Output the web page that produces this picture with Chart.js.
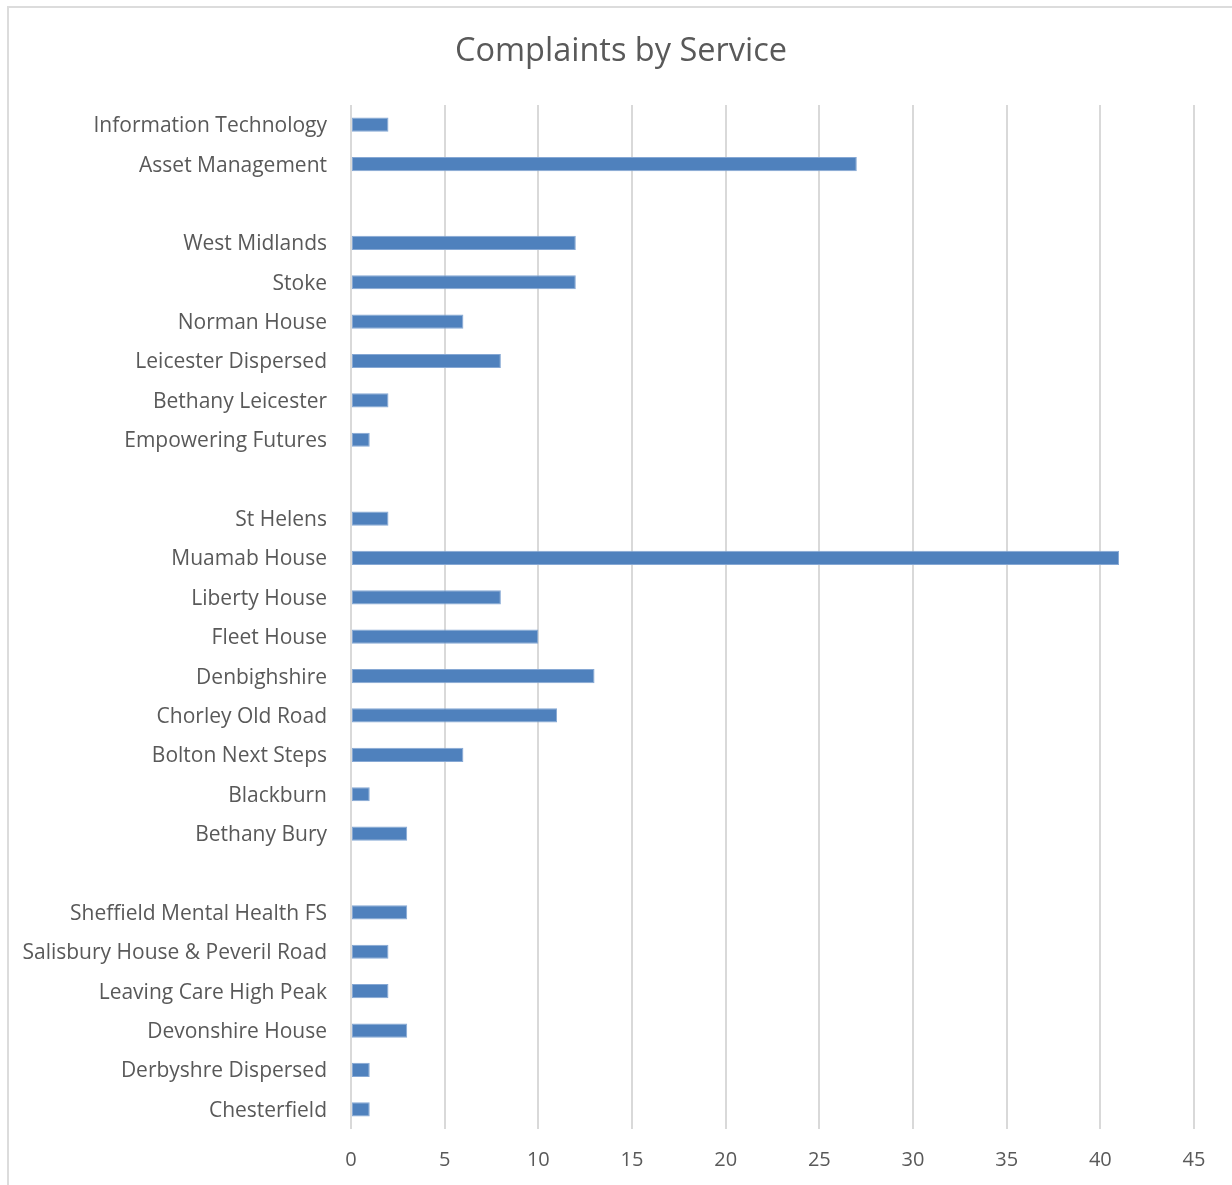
<!DOCTYPE html>
<html>
<head>
<meta charset="utf-8">
<title>Complaints by Service</title>
<script src="https://cdn.jsdelivr.net/npm/chart.js@4/dist/chart.umd.min.js"></script>
<style>
  html, body { margin: 0; padding: 0; background: #fff; overflow: hidden; }
  #frame {
    position: absolute; left: 7px; top: 6px; width: 1300px; height: 1300px;
    border-left: 2px solid #dcdcdc; border-top: 2px solid #dcdcdc;
  }
  #wrap { position: absolute; left: 0; top: 0; width: 1232px; height: 1185px; }
</style>
</head>
<body>
<div id="frame"></div>
<div id="wrap"><canvas id="myChart"></canvas></div>
<script>
// Services grouped by region; empty strings leave a blank row between groups
const services = [
  "Information Technology", "Asset Management", "",
  "West Midlands", "Stoke", "Norman House", "Leicester Dispersed",
  "Bethany Leicester", "Empowering Futures", "",
  "St Helens", "Muamab House", "Liberty House", "Fleet House",
  "Denbighshire", "Chorley Old Road", "Bolton Next Steps", "Blackburn",
  "Bethany Bury", "",
  "Sheffield Mental Health FS", "Salisbury House & Peveril Road",
  "Leaving Care High Peak", "Devonshire House", "Derbyshre Dispersed",
  "Chesterfield"
];
const complaints = [
  2, 27, null,
  12, 12, 6, 8, 2, 1, null,
  2, 41, 8, 10, 13, 11, 6, 1, 3, null,
  3, 2, 2, 3, 1, 1
];
const xTicks = [0, 5, 10, 15, 20, 25, 30, 35, 40, 45];
const chartTitle = "Complaints by Service";

const FONT = "'Open Sans', Lato, sans-serif";
const TEXT = "#595959";

// Title is centred on the outer frame rather than on the plot area
const frameTitle = {
  id: "frameTitle",
  afterDraw(chart) {
    const c = chart.ctx;
    c.save();
    c.fillStyle = TEXT;
    c.font = "32.5px " + FONT;
    c.textAlign = "center";
    c.textBaseline = "middle";
    c.fillText(chartTitle, 621, 52);
    c.restore();
  }
};

const ctx = document.getElementById("myChart").getContext("2d");
new Chart(ctx, {
  type: "bar",
  data: {
    labels: services,
    datasets: [{
      label: "Complaints",
      data: complaints,
      backgroundColor: "#4f81bd",
      borderColor: "#86a8d4",
      borderWidth: 1,
      borderSkipped: false,
      categoryPercentage: 1,
      barPercentage: 0.36
    }]
  },
  plugins: [frameTitle],
  options: {
    indexAxis: "y",
    responsive: true,
    maintainAspectRatio: false,
    animation: false,
    layout: { padding: { top: 105, right: 38, bottom: 0, left: 0 } },
    plugins: {
      legend: { display: false },
      tooltip: { enabled: false },
      title: { display: false }
    },
    scales: {
      x: {
        min: 0,
        max: 45,
        afterBuildTicks: (scale) => {
          scale.ticks = xTicks.map((v) => ({ value: v }));
        },
        afterFit: (scale) => { scale.height = 56; },
        grid: { color: "#d9d9d9", lineWidth: 2, drawTicks: false },
        border: { display: false },
        ticks: {
          color: TEXT,
          padding: 19,
          font: { family: FONT, size: 20 }
        }
      },
      y: {
        afterFit: (scale) => { scale.width = 351; },
        grid: { display: false, drawTicks: false },
        border: { display: false },
        ticks: {
          color: TEXT,
          padding: 24,
          labelOffset: 1.5,
          autoSkip: false,
          font: { family: FONT, size: 21 }
        }
      }
    }
  }
});
</script>
</body>
</html>
